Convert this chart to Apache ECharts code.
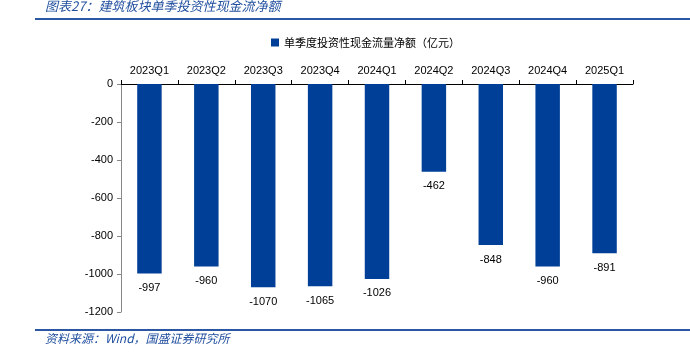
<!DOCTYPE html>
<html><head><meta charset="utf-8">
<script src="https://cdn.jsdelivr.net/npm/echarts@6/dist/echarts.min.js"></script>
<style>html,body{margin:0;padding:0;background:#fff}#c{width:690px;height:355px}</style>
</head><body><div id="c"></div>
<script>
const categories = ['2023Q1','2023Q2','2023Q3','2023Q4','2024Q1','2024Q2','2024Q3','2024Q4','2025Q1'];
const values = [-997, -960, -1070, -1065, -1026, -462, -848, -960, -891];
const seriesName = '单季度投资性现金流量净额（亿元）';
const titleText = '图表27：建筑板块单季投资性现金流净额';
const sourceText = '资料来源：Wind，国盛证券研究所';

const chart = echarts.init(document.getElementById('c'), null, {renderer:'canvas'});
const blue = '#003f98';
const font = '"Liberation Sans", Arial, sans-serif';
chart.setOption({
  animation: false,
  graphic: [
    {type:'text', left:45, top:0, style:{text:titleText, fill:'#1f4e9e', font:'italic 13px "Noto Sans CJK SC", sans-serif'}},
    {type:'rect', shape:{x:35, y:18, width:655, height:2}, style:{fill:'#2a56a3'}},
    {type:'rect', shape:{x:35, y:329, width:655, height:2}, style:{fill:'#2a56a3'}},
    {type:'text', left:45, top:332, style:{text:sourceText, fill:'#1f4e9e', font:'italic 12px "Noto Sans CJK SC", sans-serif'}}
  ],
  legend: {
    top: 32, left: 266,
    itemWidth: 8, itemHeight: 8, itemGap: 4,
    textStyle: {fontSize: 11, color:'#000', fontFamily:'"Noto Sans CJK SC", sans-serif'},
    data: [{name: seriesName, icon: 'rect'}]
  },
  grid: {left:121, right:57, top:84, bottom:43, containLabel:false},
  xAxis: {
    type:'category', position:'top', data: categories,
    axisLine:{lineStyle:{color:'#000', width:1}},
    axisTick:{show:true, length:4, alignWithLabel:false, lineStyle:{color:'#000'}},
    axisLabel:{fontSize:11, color:'#000', margin:8, fontFamily:font}
  },
  yAxis: {
    type:'value', min:-1200, max:0, interval:200,
    axisLine:{show:true, lineStyle:{color:'#888'}},
    axisTick:{show:true, length:4, lineStyle:{color:'#888'}},
    splitLine:{show:false},
    axisLabel:{fontSize:11, color:'#000', margin:8, fontFamily:font, formatter: v => String(v)}
  },
  series: [{
    name: seriesName, type:'bar', data: values, barWidth:'43%',
    itemStyle:{color: blue},
    label:{show:true, position:'bottom', distance:9, fontSize:11, color:'#000', fontFamily:font}
  }]
});
</script></body></html>
